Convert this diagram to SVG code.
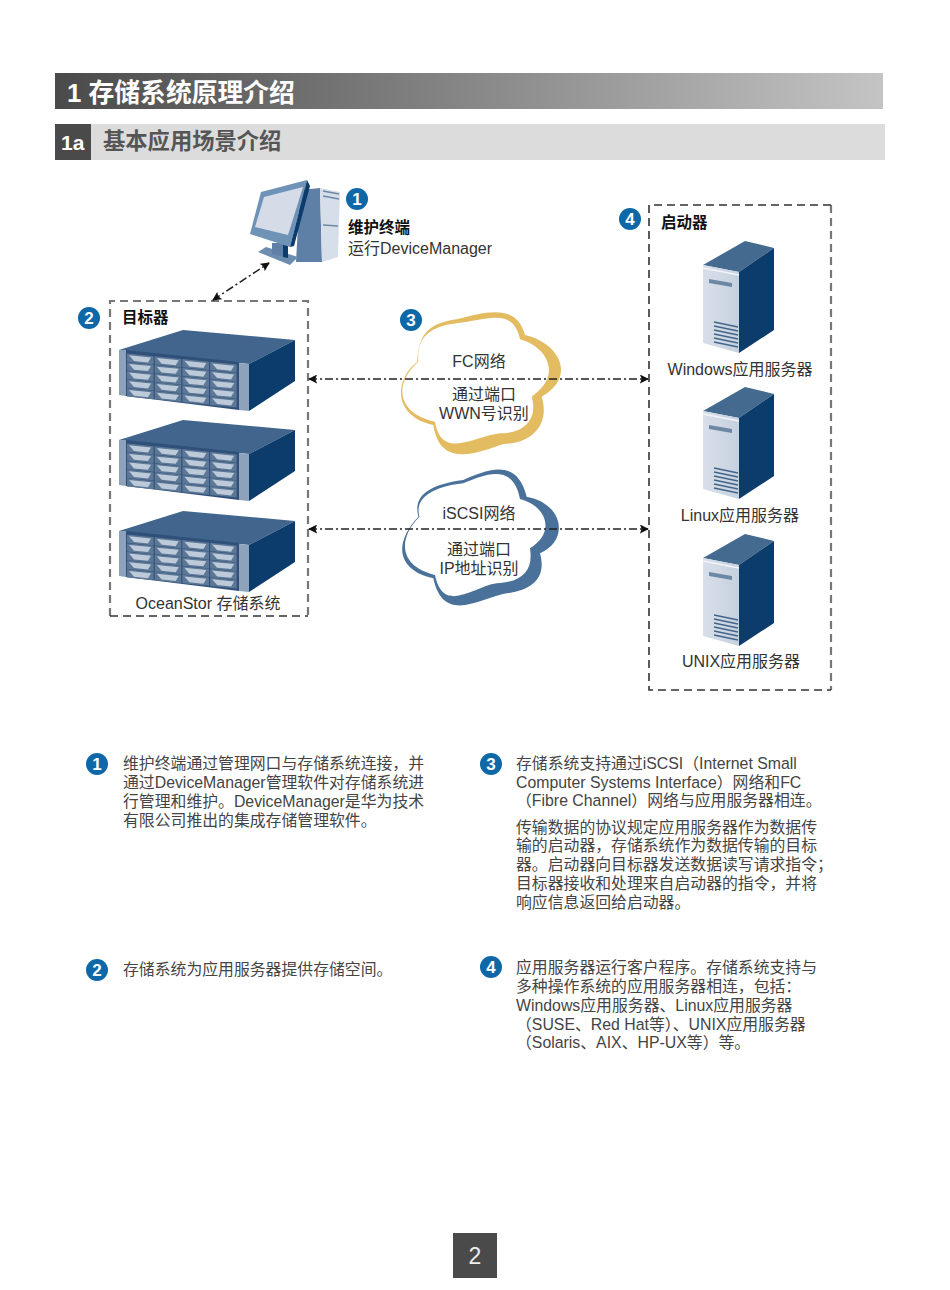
<svg xmlns="http://www.w3.org/2000/svg" xmlns:xlink="http://www.w3.org/1999/xlink" width="950" height="1290" viewBox="0 0 950 1290">
<style>
text{font-family:"Liberation Sans","Noto Sans CJK SC",sans-serif;fill:#333;font-size:16px}
.b{font-size:15.5px;font-weight:700;fill:#111}
.m{text-anchor:middle;font-size:16px}
.n{font-size:17px;font-weight:700;fill:#fff;text-anchor:middle}
.t{font-size:15.85px;fill:#444}
.dg{fill:none;stroke:#777;stroke-width:2.2;stroke-dasharray:8 5}
.dd{fill:none;stroke:#333;stroke-width:1.6;stroke-dasharray:8 5}
.conn{fill:none;stroke:#222;stroke-width:1.6;stroke-dasharray:8 3 2 3;marker-start:url(#a);marker-end:url(#a)}
</style>
<defs>
<linearGradient id="g"><stop offset="0" stop-color="#4a4a4a"/><stop offset="1" stop-color="#c4c4c4"/></linearGradient>
<linearGradient id="tf" x1="0" x2="1"><stop offset="0" stop-color="#d8dfe9"/><stop offset="1" stop-color="#c6d1df"/></linearGradient>
<marker id="a" viewBox="0 0 10 10" refX="9" refY="5" markerWidth="9" markerHeight="9" markerUnits="userSpaceOnUse" orient="auto-start-reverse"><path d="M0 0L10 5L0 10L2 5z" fill="#111"/></marker>
<g id="drive"><rect width="26.6" height="8.3" fill="#5d7796"/><path d="M2 1.500H24L21 6.800H7z" fill="#bccad9"/></g>
<g id="col"><use xlink:href="#drive"/><use xlink:href="#drive" y="8.700"/><use xlink:href="#drive" y="17.400"/><use xlink:href="#drive" y="26.100"/><use xlink:href="#drive" y="34.800"/></g>
<g id="store">
<path d="M119 350L183 330L295 340L249 364z" fill="#41658c"/>
<path d="M249 364L295 340V381L249 411z" fill="#0b3c6b"/>
<path d="M126 350L239 362V410L126 396z" fill="#2f5078"/>
<path d="M119 350L126 350V396L119 395z" fill="#8ea3bb"/>
<path d="M239 363L249 364V411L239 410z" fill="#8ea3bb"/>
<g transform="matrix(1 .1 0 1 127 353.500)"><use xlink:href="#col"/><use xlink:href="#col" x="27.700"/><use xlink:href="#col" x="55.400"/><use xlink:href="#col" x="83.100"/></g>
</g>
<g id="tower">
<path d="M703 265L745 241L774 248L739 272z" fill="#456a8f"/>
<path d="M739 272L774 248V330L739 353z" fill="#0b3c6b"/>
<path d="M703 265L739 272V353L703 343z" fill="url(#tf)"/>
<path d="M703 268L739 275" stroke="#f2f5f8" stroke-width="1.500" fill="none"/>
<path d="M709 279L732 283V287L709 283z" fill="#6d88a5"/>
<g stroke="#44658a" stroke-width="1.500" fill="none"><path d="M714 322L738 327M714 326L738 331M714 330L738 335M714 334L738 339M714 338L738 343M714 342L738 347"/></g>
</g>
</defs>
<rect width="950" height="1290" fill="#fff"/>
<g id="header1"><rect x="55" y="73" width="828" height="36" fill="url(#g)"/><text x="67" y="102" style="font-size:25.800px;font-weight:700;fill:#fff">1 存储系统原理介绍</text></g>
<g id="header2"><rect x="55" y="124" width="830" height="36" fill="#dcdcdc"/><rect x="55" y="124" width="36" height="36" fill="#4a4a4a"/><text x="61" y="150" style="font-size:21px;font-weight:700;fill:#fff">1a</text><text x="103" y="149" style="font-size:22.300px;font-weight:700;fill:#555">基本应用场景介绍</text></g>

<g id="target"><path class="dg" d="M110 616V301H308V616"/><path class="dd" d="M110 616H308"/><text class="b" x="122" y="323">目标器</text>
<use xlink:href="#store"/><use xlink:href="#store" y="90"/><use xlink:href="#store" y="181"/>
<text class="m" x="208" y="609">OceanStor 存储系统</text></g>

<g id="initiator"><path class="dg" d="M831 205V690"/><path class="dd" d="M831 205H649V690H831"/><text class="b" x="661" y="228">启动器</text>
<use xlink:href="#tower"/><use xlink:href="#tower" y="146"/><use xlink:href="#tower" y="293"/>
<text class="m" x="740" y="375">Windows应用服务器</text><text class="m" x="740" y="521">Linux应用服务器</text><text class="m" x="741" y="667">UNIX应用服务器</text></g>

<g id="terminal">
<path d="M300 190L320 188L322 262L296 262z" fill="#5f80a6"/>
<path d="M320 188L340 192L338 257L322 262z" fill="#d6deea"/>
<path d="M323 191L339 194M323 196L339 199M323 225L338 226" stroke="#6d88a5" stroke-width="1.500"/>
<path d="M258 252L266 247L298 257L290 265z" fill="#6d8db0"/>
<path d="M272 243H288V258L272 254z" fill="#5f80a6"/>
<path d="M283 245H288V258L283 257z" fill="#0b3c6b"/>
<path d="M250 234L261 192L307 180L290 247z" fill="#6f92b7"/>
<path d="M307 180L310 186L294 246L290 247z" fill="#0b3c6b"/>
<path d="M264 197L303 187L288 235L255 227z" fill="#d5dce8"/>
<text class="b" x="348" y="233">维护终端</text><text x="348" y="254">运行DeviceManager</text>
</g>

<g id="fc-cloud">
<g transform="translate(300 300) scale(.33333)">
<path fill="#e3bc62" d="M352 185C355 110 380 70 470 58C560 35 650 10 675 105C780 130 830 230 725 290C750 370 700 430 610 432C540 455 420 510 400 375C280 350 280 240 352 185z"/>
<path fill="#fff" d="M355 185C350 120 380 80 470 70C560 60 640 20 660 118C740 140 790 225 695 290C715 360 670 400 600 400C520 410 425 480 405 365C290 340 280 250 355 185z"/>
</g>
<text class="m" x="479" y="367">FC网络</text><text class="m" x="484" y="400">通过端口</text><text class="m" x="484" y="419">WWN号识别</text>
</g>
<g id="iscsi-cloud">
<g transform="translate(300 300) scale(.33333)">
<path fill="#4a7199" d="M355 650C340 590 380 555 490 540C560 510 650 470 680 590C790 610 810 720 720 760C740 830 700 870 620 880C540 895 430 975 400 835C290 810 280 730 355 650z"/>
<path fill="#fff" d="M358 650C345 600 385 562 490 550C560 520 640 490 660 597C745 620 765 700 690 745C700 810 670 845 590 850C520 860 430 945 405 825C300 800 290 720 358 650z"/>
</g>
<text class="m" x="479" y="519">iSCSI网络</text><text class="m" x="479" y="555">通过端口</text><text class="m" x="479" y="574">IP地址识别</text>
</g>

<g id="connectors">
<path class="conn" d="M309 379H648"/>
<path class="conn" d="M309 529H648"/>
<path class="conn" d="M213 300L269 263"/>
</g>

<g id="badges">
<g id="b1"><circle cx="357" cy="199" r="11" fill="#0e68a8"/><text class="n" x="357" y="205">1</text></g>
<g id="b2"><circle cx="89" cy="318" r="11" fill="#0e68a8"/><text class="n" x="89" y="324">2</text></g>
<g id="b3"><circle cx="411" cy="320" r="11" fill="#0e68a8"/><text class="n" x="411" y="326">3</text></g>
<g id="b4"><circle cx="630" cy="219" r="11" fill="#0e68a8"/><text class="n" x="630" y="225">4</text></g>
</g>

<g id="note1"><circle cx="97" cy="764" r="11" fill="#0e68a8"/><text class="n" x="97" y="770">1</text>
<text class="t" x="123" y="769">维护终端通过管理网口与存储系统连接，并</text><text class="t" x="123" y="788">通过DeviceManager管理软件对存储系统进</text><text class="t" x="123" y="807">行管理和维护。DeviceManager是华为技术</text><text class="t" x="123" y="826">有限公司推出的集成存储管理软件。</text></g>
<g id="note2"><circle cx="97" cy="970" r="11" fill="#0e68a8"/><text class="n" x="97" y="976">2</text><text class="t" x="123" y="975">存储系统为应用服务器提供存储空间。</text></g>
<g id="note3"><circle cx="491" cy="764" r="11" fill="#0e68a8"/><text class="n" x="491" y="770">3</text>
<text class="t" x="516" y="769">存储系统支持通过iSCSI（Internet Small</text><text class="t" x="516" y="788">Computer Systems Interface）网络和FC</text><text class="t" x="516" y="806">（Fibre Channel）网络与应用服务器相连。</text>
<text class="t" x="516" y="833">传输数据的协议规定应用服务器作为数据传</text><text class="t" x="516" y="851">输的启动器，存储系统作为数据传输的目标</text><text class="t" x="516" y="870">器。启动器向目标器发送数据读写请求指令；</text><text class="t" x="516" y="889">目标器接收和处理来自启动器的指令，并将</text><text class="t" x="516" y="908">响应信息返回给启动器。</text></g>
<g id="note4"><circle cx="491" cy="967" r="11" fill="#0e68a8"/><text class="n" x="491" y="973">4</text>
<text class="t" x="516" y="973">应用服务器运行客户程序。存储系统支持与</text><text class="t" x="516" y="992">多种操作系统的应用服务器相连，包括：</text><text class="t" x="516" y="1011">Windows应用服务器、Linux应用服务器</text><text class="t" x="516" y="1030">（SUSE、Red Hat等）、UNIX应用服务器</text><text class="t" x="516" y="1048">（Solaris、AIX、HP-UX等）等。</text></g>
<g id="page"><rect x="453" y="1233" width="44" height="45" fill="#4a4a4a"/><text x="475" y="1264" style="font-size:23px;fill:#eee;text-anchor:middle">2</text></g>
</svg>
